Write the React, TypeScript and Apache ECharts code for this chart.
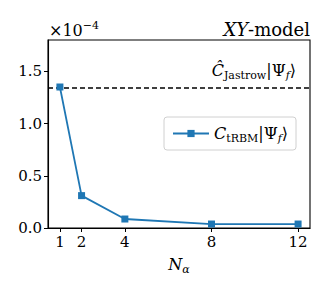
import React, { useEffect, useRef } from "react";
import * as echarts from "echarts";

const nAlpha = [1, 2, 4, 8, 12];
const tRBMValues = [1.35e-4, 0.31e-4, 0.086e-4, 0.038e-4, 0.038e-4];
const jastrowValue = 1.34e-4;
const xRange = [0.45, 12.55];
const xTicks = [1, 2, 4, 8, 12];
const yTicks = [0, 0.5e-4, 1.0e-4, 1.5e-4];

const SERIF = "DejaVu Serif";

export default function App() {
  const ref = useRef<HTMLDivElement>(null);
  useEffect(() => {
    if (!ref.current) return;
    const chart = echarts.init(ref.current, undefined, { renderer: "svg" });
    const mathRich = {
      n: { fontFamily: SERIF, fontSize: 16, color: "#000", lineHeight: 19 },
      i: { fontFamily: SERIF, fontSize: 16, fontStyle: "italic", color: "#000", lineHeight: 19 },
      sub: { fontFamily: SERIF, fontSize: 11, color: "#000", lineHeight: 11, padding: [10, 0, 0, 0] },
      subi: { fontFamily: SERIF, fontSize: 11, fontStyle: "italic", color: "#000", lineHeight: 11, padding: [10, 0, 0, 0] },
      sup: { fontFamily: SERIF, fontSize: 11, color: "#000", lineHeight: 11, padding: [0, 0, 9, 0] },
    };
    const option: any = {
      animation: false,
      textStyle: { fontFamily: SERIF },
      grid: {
        left: 48,
        right: 22,
        top: 40,
        bottom: 63,
        show: true,
        borderColor: "#000",
        borderWidth: 1.1,
        backgroundColor: "transparent",
      },
      xAxis: {
        type: "value",
        min: xRange[0],
        max: xRange[1],
        name: "{i|N}{subi|α}",
        nameLocation: "middle",
        nameGap: 15,
        nameTextStyle: { rich: mathRich },
        axisLine: { show: true, onZero: false, lineStyle: { color: "#000", width: 1.1 } },
        axisTick: { show: true, length: 4, lineStyle: { color: "#000" }, customValues: xTicks },
        axisLabel: {
          customValues: xTicks,
          fontFamily: SERIF,
          fontSize: 15,
          color: "#000",
          margin: 6,
        },
        splitLine: { show: false },
      },
      yAxis: {
        type: "value",
        min: 0,
        max: 1.8e-4,
        axisLine: { show: true, lineStyle: { color: "#000", width: 1.1 } },
        axisTick: { show: true, length: 4, lineStyle: { color: "#000" }, customValues: yTicks },
        axisLabel: {
          customValues: yTicks,
          fontFamily: SERIF,
          fontSize: 15,
          color: "#000",
          margin: 6,
          formatter: (v: number) => (v / 1e-4).toFixed(1),
        },
        splitLine: { show: false },
      },
      legend: {
        left: 164,
        top: 117,
        padding: [6, 8, 6, 8],
        borderColor: "#d0d0d0",
        borderWidth: 1,
        borderRadius: 3,
        backgroundColor: "rgba(255,255,255,0.85)",
        itemWidth: 36,
        itemHeight: 9,
        itemGap: 10,
        data: ["tRBM"],
        formatter: () => "{i|C}{sub|tRBM}{n||Ψ}{subi|f}{n|⟩}",
        textStyle: { fontFamily: SERIF, rich: mathRich },
      },
      graphic: [
        {
          type: "text",
          right: 22,
          top: 20,
          style: {
            text: "{i|XY}{n|-model}",
            rich: {
              i: { fontFamily: SERIF, fontSize: 18, fontStyle: "italic", color: "#000" },
              n: { fontFamily: SERIF, fontSize: 18, color: "#000" },
            },
          },
        },
        {
          type: "text",
          left: 49,
          top: 20,
          style: {
            text: "{n|×10}{sup|−4}",
            rich: mathRich,
          },
        },
        {
          type: "text",
          right: 36,
          top: 60,
          style: {
            text: "{i|Ĉ}{sub|Jastrow}{n||Ψ}{subi|f}{n|⟩}",
            rich: mathRich,
          },
        },
      ],
      series: [
        {
          name: "tRBM",
          type: "line",
          data: nAlpha.map((x, k) => [x, tRBMValues[k]]),
          symbol: "rect",
          symbolSize: 7,
          itemStyle: { color: "#1f77b4" },
          lineStyle: { color: "#1f77b4", width: 1.8 },
          z: 3,
        },
        {
          name: "Jastrow",
          type: "line",
          data: xRange.map((x) => [x, jastrowValue]),
          symbol: "none",
          silent: true,
          lineStyle: { color: "#000", width: 1.6, type: [5, 3] },
          z: 2,
        },
      ],
    };
    chart.setOption(option);
    return () => chart.dispose();
  }, []);
  return (
    <div
      ref={ref}
      style={{ position: "fixed", left: 0, top: 0, width: 332, height: 291, background: "#fff" }}
    />
  );
}
